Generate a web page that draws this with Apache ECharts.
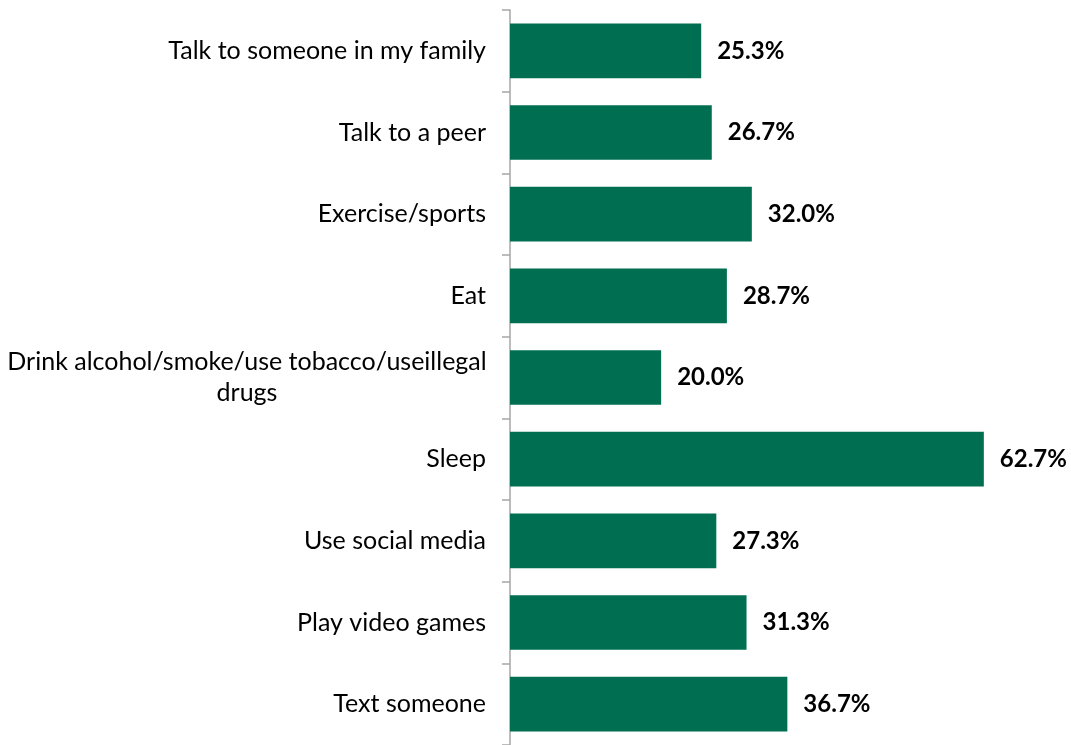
<!DOCTYPE html>
<html><head><meta charset="utf-8">
<script src="https://cdn.jsdelivr.net/npm/echarts@6/dist/echarts.min.js"></script>
<style>html,body{margin:0;padding:0;background:#fff}#c{width:1071px;height:745px}</style>
</head><body><div id="c"></div>
<script>
const categories = [
  "Talk to someone in my family",
  "Talk to a peer",
  "Exercise/sports",
  "Eat",
  "Drink alcohol/smoke/use tobacco/useillegal\ndrugs",
  "Sleep",
  "Use social media",
  "Play video games",
  "Text someone"
];
const values = [25.3, 26.7, 32.0, 28.7, 20.0, 62.7, 27.3, 31.3, 36.7];

const FONT = "Lato";
const chart = echarts.init(document.getElementById('c'), null, {renderer: 'canvas'});
chart.setOption({
  animation: false,
  grid: {left: 510, top: 10, width: 529, height: 736, containLabel: false},
  xAxis: {type: 'value', min: 0, max: 70, show: false},
  yAxis: {
    type: 'category', inverse: true, data: categories,
    axisLine: {show: true, lineStyle: {color: '#A6A6A6', width: 1.5}},
    axisTick: {show: true, length: 8, lineStyle: {color: '#A6A6A6', width: 1.5}},
    axisLabel: {
      margin: 24, fontFamily: FONT, fontSize: 25, color: '#000', lineHeight: 31,
      formatter: function (v) {
        if (v.indexOf('\n') >= 0) {
          return v.split('\n').map(s => '{c|' + s + '}').join('\n');
        }
        return v;
      },
      rich: {c: {width: 478, align: 'center', fontFamily: FONT, fontSize: 25, color: '#000', lineHeight: 31}}
    },
    splitLine: {show: false}
  },
  series: [{
    type: 'bar', data: values, barWidth: '67%',
    itemStyle: {color: '#006F51'},
    label: {show: true, position: 'right', distance: 16, fontFamily: FONT, fontSize: 24, fontWeight: 'bold', color: '#000',
      formatter: p => p.value.toFixed(1) + '%'}
  }]
});
</script></body></html>
